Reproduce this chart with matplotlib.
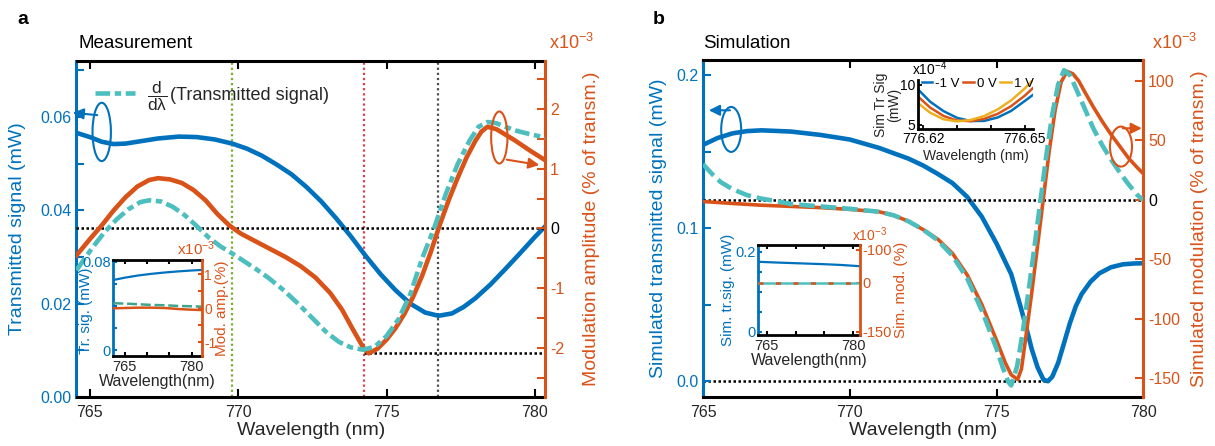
import numpy as np
import matplotlib
matplotlib.use('Agg')
import matplotlib.pyplot as plt
from matplotlib.patches import Ellipse
from matplotlib.lines import Line2D

plt.rcParams['font.family'] = ['Liberation Sans', 'DejaVu Sans']
plt.rcParams['mathtext.fontset'] = 'custom'
plt.rcParams['mathtext.rm'] = 'Liberation Sans'
plt.rcParams['mathtext.it'] = 'Liberation Sans'
plt.rcParams['mathtext.bf'] = 'Liberation Sans:bold'
plt.rcParams['axes.unicode_minus'] = False

BLUE = '#0072BD'
ORANGE = '#D95319'
TEAL = '#4DBEBE'
TEAL_DARK = '#3FA58C'
YELLOW = '#EDB120'
GREEN = '#77AC30'
RED = '#D7424F'
GRAY = '#4D4D4D'
TXT = '#262626'

# ---------------- Panel a : measurement ----------------
meas_blue_wl = [764.55, 765.0, 765.4, 765.8, 766.2, 766.7, 767.3, 768.0, 768.6, 769.2, 769.8,
                770.3, 770.8, 771.3, 771.8, 772.3, 772.8, 773.3, 773.8, 774.3, 774.8, 775.3,
                775.8, 776.3, 776.75, 777.2, 777.6, 778.0, 778.5, 779.0, 779.5, 780.0, 780.35]
meas_blue = [0.0566, 0.0557, 0.0547, 0.0542, 0.0543, 0.0548, 0.0554, 0.0558, 0.0557, 0.0552, 0.0543,
             0.0532, 0.0517, 0.0498, 0.0477, 0.0450, 0.0419, 0.0383, 0.0344, 0.0302, 0.0263, 0.0229,
             0.0200, 0.0181, 0.0174, 0.0179, 0.0193, 0.0212, 0.0241, 0.0274, 0.0308, 0.0343, 0.0366]

meas_mod_wl = [764.55, 765.0, 765.4, 765.8, 766.2, 766.6, 767.0, 767.3, 767.7, 768.1, 768.5, 768.9,
               769.3, 769.7, 770.1, 770.6, 771.1, 771.6, 772.1, 772.6, 773.1, 773.5, 773.9, 774.2,
               774.4, 774.7, 775.0, 775.3, 775.6, 775.9, 776.2, 776.5, 776.8, 777.1, 777.4, 777.7,
               778.0, 778.2, 778.4, 778.7, 779.0, 779.3, 779.6, 779.9, 780.35]
meas_mod = [-0.45, -0.18, 0.05, 0.30, 0.52, 0.70, 0.81, 0.84, 0.82, 0.76, 0.64, 0.47,
            0.24, 0.05, -0.09, -0.22, -0.35, -0.48, -0.63, -0.82, -1.08, -1.36, -1.72, -1.98,
            -2.09, -2.01, -1.86, -1.67, -1.43, -1.14, -0.79, -0.38, 0.07, 0.48, 0.85, 1.19,
            1.47, 1.62, 1.70, 1.66, 1.57, 1.48, 1.38, 1.28, 1.14]

meas_deriv_wl = [764.55, 764.9, 765.2, 765.5, 765.9, 766.3, 766.7, 767.0, 767.4, 767.8, 768.2,
                 768.6, 769.0, 769.4, 769.8, 770.2, 770.6, 771.0, 771.5, 772.0, 772.5, 773.0,
                 773.4, 773.8, 774.2, 774.6, 775.0, 775.4, 775.8, 776.2, 776.6, 777.0, 777.4,
                 777.8, 778.1, 778.4, 778.7, 779.0, 779.4, 779.8, 780.35]
meas_deriv = [-0.70, -0.45, -0.25, -0.06, 0.15, 0.32, 0.44, 0.47, 0.45, 0.36, 0.22,
              0.04, -0.15, -0.30, -0.42, -0.55, -0.68, -0.82, -1.02, -1.25, -1.50, -1.75,
              -1.90, -1.99, -2.03, -1.98, -1.80, -1.52, -1.10, -0.50, 0.00, 0.58, 1.08,
              1.47, 1.70, 1.78, 1.76, 1.70, 1.63, 1.58, 1.52]

meas_markers_wl = [769.8, 774.25, 776.75]      # green, red, gray vertical guides
meas_min_level = -2.09                          # lower dotted guide (x10^-3 %)

inset_a_wl = [762.4, 765, 768, 771, 774, 777, 780, 782.25]
inset_a_sig = [0.0634, 0.0655, 0.0675, 0.0690, 0.0702, 0.0712, 0.0720, 0.0725]
inset_a_deriv = [0.15, 0.14, 0.12, 0.10, 0.09, 0.07, 0.06, 0.05]
inset_a_mod = [0.00, 0.01, 0.02, 0.02, 0.01, -0.02, -0.04, -0.05]

# ---------------- Panel b : simulation ----------------
sim_blue_wl = [765.0, 765.5, 766.0, 766.5, 767.0, 768.0, 769.0, 770.0, 771.0, 772.0, 772.5, 773.0,
               773.5, 774.0, 774.5, 775.0, 775.5, 775.8, 776.0, 776.2, 776.4, 776.6, 776.75,
               776.9, 777.1, 777.3, 777.5, 777.7, 777.9, 778.2, 778.5, 778.9, 779.3, 779.7, 780.0]
sim_blue = [0.1545, 0.159, 0.162, 0.1635, 0.164, 0.1632, 0.161, 0.158, 0.1525, 0.1455, 0.141, 0.1355,
            0.1295, 0.1205, 0.1075, 0.090, 0.070, 0.050, 0.036, 0.021, 0.009, 0.001, 0.0,
            0.003, 0.012, 0.025, 0.038, 0.049, 0.057, 0.065, 0.0705, 0.0745, 0.0764, 0.0770, 0.0771]

sim_mod_wl = [765.0, 766.0, 767.0, 768.0, 769.0, 770.0, 771.0, 771.5, 772.0, 772.5, 773.0, 773.5,
              774.0, 774.5, 775.0, 775.3, 775.5, 775.72, 775.85, 776.0, 776.2, 776.4, 776.6,
              776.8, 777.0, 777.2, 777.4, 777.6, 777.8, 778.0, 778.3, 778.6, 778.9, 779.2,
              779.5, 779.8, 780.0]
sim_mod = [-1.4, -3, -4.5, -5.5, -6.5, -8, -10, -13, -18, -25, -33, -45,
           -63, -88, -118, -137, -147, -151, -142, -115, -78, -38, 2,
           42, 76, 99, 108, 106, 100, 91, 78, 66, 55, 45,
           35, 27, 22]

sim_deriv_wl = [765.0, 765.3, 765.6, 766.0, 766.5, 767.0, 767.5, 768.0, 769.0, 770.0, 771.0, 771.5,
                772.0, 772.5, 773.0, 773.5, 774.0, 774.5, 775.0, 775.2, 775.4, 775.5, 775.7,
                775.9, 776.1, 776.3, 776.5, 776.7, 776.9, 777.1, 777.3, 777.5, 777.7, 778.0,
                778.3, 778.6, 778.9, 779.2, 779.5, 779.8, 780.0]
sim_deriv = [30, 22, 15, 9, 4, 1, -1, -3.5, -5.5, -7.5, -10, -13,
             -18, -25, -34, -47, -66, -93, -125, -140, -153, -156, -140,
             -110, -75, -38, 0, 38, 72, 97, 109, 105, 94, 77,
             60, 46, 34, 23, 13, 4, 0]

inset_b_wl = [763.5, 767, 771, 775, 778, 781.2]
inset_b_sig = [0.175, 0.173, 0.171, 0.169, 0.167, 0.164]
inset_b_deriv = [0, 0, 0, 0, 0, 0]
inset_b_mod = [0, 0, 0, 0, 0, 0]

zoom_wl = [776.6185, 776.622, 776.626, 776.630, 776.634, 776.638, 776.642, 776.646, 776.650, 776.6525]
zoom_m1V = [9.40, 7.90, 6.72, 5.89, 5.49, 5.51, 5.93, 6.75, 7.97, 8.75]
zoom_0V = [8.50, 7.17, 6.12, 5.55, 5.47, 5.76, 6.38, 7.34, 8.63, 9.60]
zoom_p1V = [7.70, 6.53, 5.71, 5.45, 5.62, 6.11, 6.93, 8.06, 9.52, 10.60]
zoom_labels = ['-1 V', '0 V', '1 V']

# ---------------- figure ----------------
W, H = 1215, 446
fig = plt.figure(figsize=(W / 100, H / 100), dpi=100)


def rect(l, t, r, b):
    return [l / W, 1 - b / H, (r - l) / W, (b - t) / H]


def style_pair(ax, ax2, lw=2.2, tl=6, ls=11.5, pad=6):
    for s in ['top', 'bottom']:
        ax.spines[s].set_linewidth(lw)
        ax.spines[s].set_color('black')
    ax.spines['left'].set_linewidth(lw)
    ax.spines['left'].set_color(BLUE)
    ax.spines['right'].set_visible(False)
    for s in ['left', 'top', 'bottom']:
        ax2.spines[s].set_visible(False)
    ax2.spines['right'].set_linewidth(lw)
    ax2.spines['right'].set_color(ORANGE)
    ax.tick_params(axis='x', direction='in', top=True, length=tl, width=1.5, color='black',
                   labelcolor=TXT, labelsize=ls, pad=pad)
    ax.tick_params(axis='y', direction='in', length=tl, width=1.5, color=BLUE,
                   labelcolor=BLUE, labelsize=ls)
    ax2.tick_params(axis='y', direction='in', length=tl, width=1.5, color=ORANGE,
                    labelcolor=ORANGE, labelsize=ls)


def zero_black(ax2):
    for t in ax2.get_yticklabels():
        if t.get_text() == '0':
            t.set_color('black')


# ===== Panel a =====
axA = fig.add_axes(rect(76.5, 61, 545.3, 397))
axA2 = axA.twinx()
axA.set_xlim(764.55, 780.35)
axA.set_ylim(0, 0.072)
axA2.set_ylim(-2.82, 2.8)
style_pair(axA, axA2)
axA.set_xticks([765, 770, 775, 780])
axA.set_yticks([0, 0.01, 0.02, 0.03, 0.04, 0.05, 0.06, 0.07])
axA.set_yticklabels(['0.00', '', '0.02', '', '0.04', '', '0.06', ''])
axA2.set_yticks([-2.5, -2, -1.5, -1, -0.5, 0, 0.5, 1, 1.5, 2, 2.5])
axA2.set_yticklabels(['', '-2', '', '-1', '', '0', '', '1', '', '2', ''])
zero_black(axA2)

for wl, c in zip(meas_markers_wl, [GREEN, RED, GRAY]):
    axA.axvline(wl, color=c, ls=(0, (1, 1.3)), lw=1.6, zorder=1)
axA2.axhline(0, color='black', ls=(0, (1, 1)), lw=1.8, zorder=1)
axA2.plot([meas_markers_wl[1], 780.35], [meas_min_level, meas_min_level], color='black',
          ls=(0, (1, 1)), lw=1.8, zorder=1)

axA.plot(meas_blue_wl, meas_blue, color=BLUE, lw=3.3, zorder=3)
axA2.plot(meas_mod_wl, meas_mod, color=ORANGE, lw=3.3, zorder=3)
teal_ls_a = (0, (3.2, 1.0, 1.4, 1.0))
axA2.plot(meas_deriv_wl, meas_deriv, color=TEAL, lw=3.3, ls=teal_ls_a, zorder=4)

axA.set_xlabel('Wavelength (nm)', fontsize=14, color=TXT, labelpad=1)
axA.set_ylabel('Transmitted signal (mW)', fontsize=14, color=BLUE)
axA.yaxis.set_label_coords(-0.108, 0.5)
axA2.set_ylabel('Modulation amplitude (% of transm.)', fontsize=14, color=ORANGE)
axA2.yaxis.set_label_coords(1.081, 0.5)

leg = axA2.legend(handles=[Line2D([], [], color=TEAL, lw=3.3, ls=teal_ls_a)],
                  labels=['(Transmitted signal)'],
                  loc='center left', bbox_to_anchor=((95 - 76.5) / 468.8, 1 - (95 - 61) / 336),
                  frameon=False, fontsize=13, handlelength=2.2, handletextpad=1.95,
                  borderpad=0, borderaxespad=0)
for t in leg.get_texts():
    t.set_color(TXT)
fig.text(157.5 / W, 1 - 96 / H, r'$\dfrac{\mathregular{d}}{\mathregular{d\lambda}}$',
         fontsize=12.5, color=TXT, ha='center', va='center')

# annotations (ellipses + arrows)
axA.add_patch(Ellipse((765.4, 0.0568), 0.62, 0.0125, fill=False, ec=BLUE, lw=1.5, clip_on=False, zorder=5))
axA.annotate('', xy=(764.42, 0.0609), xytext=(765.25, 0.0604),
             arrowprops=dict(arrowstyle='-|>', color=BLUE, lw=1.5, mutation_scale=16,
                             shrinkA=0, shrinkB=0), annotation_clip=False)
axA2.add_patch(Ellipse((778.8, 1.52), 0.55, 0.87, fill=False, ec=ORANGE, lw=1.5, clip_on=False, zorder=5))
axA2.annotate('', xy=(780.15, 1.06), xytext=(779.05, 1.15),
              arrowprops=dict(arrowstyle='-|>', color=ORANGE, lw=1.5, mutation_scale=16,
                              shrinkA=0, shrinkB=0), annotation_clip=False)

fig.text(572 / W, 1 - 43 / H, r'x10$^{\mathregular{-3}}$', color=ORANGE, fontsize=13,
         ha='center', va='center')
fig.text(78 / W, 1 - 43 / H, 'Measurement', fontsize=13.5, color='black', ha='left', va='center')
fig.text(23 / W, 1 - 19 / H, 'a', fontsize=14, fontweight='bold', ha='center', va='center')

# inset a
iA = fig.add_axes(rect(113.3, 260, 201.7, 356))
iA2 = iA.twinx()
iA.set_xlim(762.4, 782.25)
iA.set_ylim(-0.0054, 0.0815)
iA2.set_ylim(-1.4, 1.42)
style_pair(iA, iA2, lw=2.0, tl=3, ls=10.5, pad=3)
iA.set_facecolor('white')
iA.set_xticks([765, 770, 775, 780])
iA.set_xticklabels(['765', '', '', '780'])
iA.set_yticks([0, 0.02, 0.04, 0.06, 0.08])
iA.set_yticklabels(['0', '', '', '', '0.08'])
iA2.set_yticks([-1, -0.5, 0, 0.5, 1])
iA2.set_yticklabels(['-1', '', '0', '', '1'])
iA2.tick_params(axis='y', labelsize=10)
iA.tick_params(axis='y', pad=2)
iA2.tick_params(axis='y', pad=2)
iA.plot(inset_a_wl, inset_a_sig, color=BLUE, lw=1.6)
iA2.plot(inset_a_wl, inset_a_mod, color=ORANGE, lw=1.8)
iA2.plot(inset_a_wl, inset_a_deriv, color=TEAL_DARK, lw=1.8, ls=(0, (4, 1.5)))
iA.set_xlabel('Wavelength(nm)', fontsize=11.5, color=TXT, labelpad=0)
iA.set_ylabel('Tr. sig. (mW)', fontsize=11, color=BLUE)
iA.yaxis.set_label_coords(-0.224, 0.47)
iA2.set_ylabel('Mod. amp.(%)', fontsize=11, color=ORANGE)
iA2.yaxis.set_label_coords(1.15, 0.5)
fig.text(196 / W, 1 - 249 / H, r'x10$^{\mathregular{-3}}$', color=ORANGE, fontsize=11,
         ha='center', va='center')

# ===== Panel b =====
axB = fig.add_axes(rect(703, 59.5, 1143.3, 397))
axB2 = axB.twinx()
axB.set_xlim(765, 780)
axB.set_ylim(-0.0103, 0.2103)
axB2.set_ylim(-165.7, 118)
style_pair(axB, axB2)
axB.set_xticks([765, 770, 775, 780])
axB.set_yticks([0, 0.05, 0.1, 0.15, 0.2])
axB.set_yticklabels(['0.0', '', '0.1', '', '0.2'])
axB2.set_yticks([-150, -100, -50, 0, 50, 100])
axB2.set_yticklabels(['-150', '-100', '-50', '0', '50', '100'])
zero_black(axB2)

axB2.axhline(0, color='black', ls=(0, (1, 1)), lw=1.8, zorder=1)
axB.plot([765, 776.75], [0, 0], color='black', ls=(0, (1, 1)), lw=1.8, zorder=1)

axB.plot(sim_blue_wl, sim_blue, color=BLUE, lw=3.3, zorder=3)
axB2.plot(sim_mod_wl, sim_mod, color=ORANGE, lw=2.6, zorder=3)
axB2.plot(sim_deriv_wl, sim_deriv, color=TEAL, lw=3.3, ls=(0, (3.4, 1.3)), zorder=4)

axB.set_xlabel('Wavelength (nm)', fontsize=14, color=TXT, labelpad=1)
axB.set_ylabel('Simulated transmitted signal (mW)', fontsize=14, color=BLUE)
axB.yaxis.set_label_coords(-0.082, 0.5)
axB2.set_ylabel('Simulated modulation (% of transm.)', fontsize=14, color=ORANGE)
axB2.yaxis.set_label_coords(1.108, 0.5)

axB.add_patch(Ellipse((765.96, 0.1646), 0.68, 0.0294, fill=False, ec=BLUE, lw=1.5, clip_on=False, zorder=5))
axB.annotate('', xy=(765.2, 0.1771), xytext=(765.92, 0.1771),
             arrowprops=dict(arrowstyle='-|>', color=BLUE, lw=1.5, mutation_scale=16,
                             shrinkA=0, shrinkB=0), annotation_clip=False)
axB2.add_patch(Ellipse((779.24, 44.8), 0.75, 33.6, fill=False, ec=ORANGE, lw=1.5, clip_on=False, zorder=5))
axB2.annotate('', xy=(779.95, 60.2), xytext=(779.3, 60.2),
              arrowprops=dict(arrowstyle='-|>', color=ORANGE, lw=1.5, mutation_scale=16,
                              shrinkA=0, shrinkB=0), annotation_clip=False)

fig.text(1175 / W, 1 - 43 / H, r'x10$^{\mathregular{-3}}$', color=ORANGE, fontsize=13,
         ha='center', va='center')
fig.text(703 / W, 1 - 43 / H, 'Simulation', fontsize=13.5, color='black', ha='left', va='center')
fig.text(659 / W, 1 - 20 / H, 'b', fontsize=14, fontweight='bold', ha='center', va='center')

# inset b1
iB = fig.add_axes(rect(758.3, 245, 860, 335))
iB2 = iB.twinx()
iB.set_xlim(763.5, 781.2)
iB.set_ylim(-0.008, 0.217)
iB2.set_ylim(-160, 115)
style_pair(iB, iB2, lw=2.0, tl=3, ls=10.5, pad=3)
iB.set_facecolor('white')
iB.set_xticks([765, 770, 775, 780])
iB.set_xticklabels(['765', '', '', '780'])
iB.set_yticks([0, 0.05, 0.1, 0.15, 0.2])
iB.set_yticklabels(['0', '', '', '', '0.2'])
iB2.set_yticks([100, 0, -150])
iB2.set_yticklabels(['-100', '0', '-150'])
iB.tick_params(axis='y', pad=2)
iB2.tick_params(axis='y', pad=2)
iB.plot(inset_b_wl, inset_b_sig, color=BLUE, lw=1.6)
iB2.plot(inset_b_wl, inset_b_deriv, color=TEAL, lw=1.8)
iB2.plot(inset_b_wl, inset_b_mod, color=ORANGE, lw=1.8, ls=(0, (2, 5)))
iB.set_xlabel('Wavelength(nm)', fontsize=11.5, color=TXT, labelpad=0)
iB.set_ylabel('Sim. tr.sig. (mW)', fontsize=11, color=BLUE)
iB.yaxis.set_label_coords(-0.234, 0.5)
iB2.set_ylabel('Sim. mod. (%)', fontsize=11, color=ORANGE)
iB2.yaxis.set_label_coords(1.33, 0.5)
fig.text(870 / W, 1 - 235 / H, r'x10$^{\mathregular{-3}}$', color=ORANGE, fontsize=10,
         ha='center', va='center')

# inset b2 (zoom of dip vs. bias)
iC = fig.add_axes(rect(918.3, 80, 1033, 129))
iC.patch.set_alpha(0)
iC.set_xlim(776.6185, 776.6525)
iC.set_ylim(4.5, 10.6)
for s in ['top', 'right']:
    iC.spines[s].set_visible(False)
for s in ['left', 'bottom']:
    iC.spines[s].set_linewidth(2.0)
    iC.spines[s].set_color('black')
iC.tick_params(direction='in', length=3, width=1.3, labelsize=10, colors='black', pad=2)
iC.set_xticks([776.62, 776.63, 776.64, 776.65])
iC.set_xticklabels(['776.62', '', '', '776.65'])
iC.set_yticks([5, 10])
iC.set_yticklabels(['5', '10'])
for ys, c, lab in zip([zoom_m1V, zoom_0V, zoom_p1V], [BLUE, ORANGE, YELLOW], zoom_labels):
    iC.plot(zoom_wl, ys, color=c, lw=1.8, label=lab)
iC.legend(loc='lower left', bbox_to_anchor=(0.03, 0.80), ncol=3, frameon=False, fontsize=9.5,
          handlelength=0.8, handletextpad=0.2, columnspacing=0.3, borderpad=0, borderaxespad=0)
iC.set_xlabel('Wavelength (nm)', fontsize=10, color=TXT, labelpad=2)
iC.set_ylabel('Sim Tr Sig\n(mW)', fontsize=10, color=TXT, linespacing=0.95)
iC.yaxis.set_label_coords(-0.15, 0.5)
fig.text(930 / W, 1 - 69 / H, r'x10$^{\mathregular{-4}}$', color='black', fontsize=10,
         ha='center', va='center')

fig.savefig('out.png', dpi=100)
